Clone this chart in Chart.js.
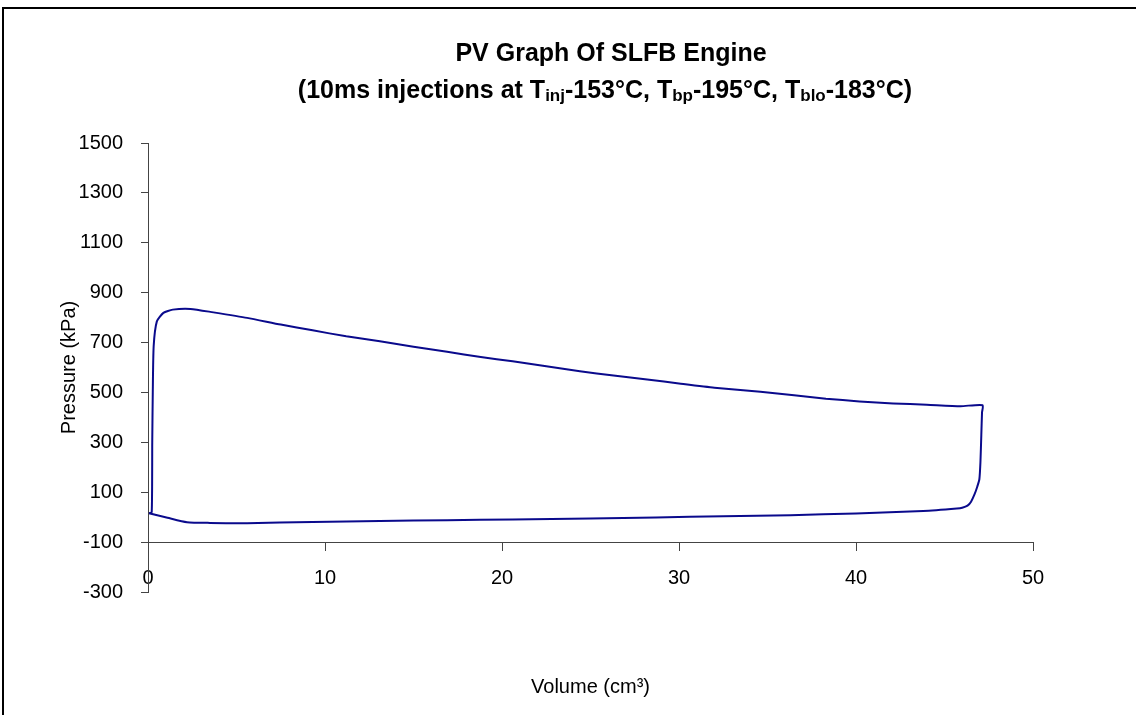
<!DOCTYPE html>
<html>
<head>
<meta charset="utf-8">
<script src="https://cdn.jsdelivr.net/npm/chart.js@4.4.1/dist/chart.umd.min.js"></script>
<style>
  body { margin: 0; background: #fff; }
  #wrap { position: relative; width: 1136px; height: 715px; overflow: hidden; }
  #frame { position: absolute; left: 2px; top: 7px; width: 1300px; height: 900px; border: 2px solid #000; pointer-events: none; }
  canvas { position: absolute; left: 0; top: 0; }
</style>
</head>
<body>
<div id="wrap">
  <canvas id="pvChart" width="1136" height="715"></canvas>
  <div id="frame"></div>
</div>
<script>
const volumeCm3 = [0.06, 1.1, 2.2, 3.5, 5.6, 9.3, 13.1, 16.9, 20.6, 25.0, 28.7, 32.5, 36.3, 40.0, 43.8, 45.7, 46.0, 46.3, 46.5, 46.7, 46.85, 46.97, 47.03, 47.08, 47.12, 47.15,
  45.9, 44.0, 42.1, 40.2, 38.3, 36.5, 34.6, 32.0, 30.1, 28.2, 26.3, 24.4, 22.5, 20.6, 18.8, 16.9, 15.0, 13.1, 11.2, 9.3, 7.5, 5.6, 3.7, 2.4, 1.4, 0.87, 0.5, 0.32, 0.27, 0.24, 0.21, 0.06];
const pressureKpa = [16, -2, -20, -23, -24, -19, -15, -12, -9, -5, -1, 4, 8, 15, 25, 35, 38, 46, 62, 92, 122, 152, 220, 330, 420, 449,
  445, 451, 456, 464, 475, 489, 503, 519, 535, 552, 568, 585, 605, 625, 642, 663, 683, 705, 725, 749, 772, 799, 821, 835, 832, 819, 785, 685, 500, 300, 20, 16];

//axis settings
const xTicks = { min: 0, max: 50, step: 10 };
const yTicks = { min: -300, max: 1500, step: 200 };
const xCrossAt = -100;

//title pieces, sub = subscript
const titleLine1 = [{ t: 'PV Graph Of SLFB Engine' }];
const titleLine2 = [
  { t: '(10ms injections at T' }, { t: 'inj', sub: true }, { t: '-153°C, T' }, { t: 'bp', sub: true },
  { t: '-195°C, T' }, { t: 'blo', sub: true }, { t: '-183°C)' }
];

const fontFam = "'Liberation Sans', Arial, sans-serif";

//draws the two line title with subscripts
const titlePlugin = {
  id: 'titlePlugin',
  afterDraw(chart) {
    const ctx = chart.ctx;
    const big = 'bold 25px ' + fontFam;
    const small = 'bold 17px ' + fontFam;
    function drawLine(parts, cx, y) {
      let w = 0;
      parts.forEach(p => { ctx.font = p.sub ? small : big; w += ctx.measureText(p.t).width; });
      let x = cx - w / 2;
      ctx.save();
      ctx.fillStyle = '#000';
      ctx.textBaseline = 'alphabetic';
      ctx.textAlign = 'left';
      parts.forEach(p => {
        ctx.font = p.sub ? small : big;
        ctx.fillText(p.t, x, p.sub ? y + 3 : y);
        x += ctx.measureText(p.t).width;
      });
      ctx.restore();
    }
    drawLine(titleLine1, 611, 61);
    drawLine(titleLine2, 605, 98);
  }
};

const pvData = volumeCm3.map((v, i) => ({ x: v, y: pressureKpa[i] }));

const pvConfig = {
  type: 'scatter',
  data: {
    datasets: [{
      label: 'PV',
      data: pvData,
      showLine: true,
      borderColor: '#0a0a8c',
      backgroundColor: '#0a0a8c',
      borderWidth: 2,
      pointRadius: 0,
      tension: 0.2,
      fill: false
    }]
  },
  options: {
    responsive: false,
    animation: false,
    layout: {
      padding: { left: 0, right: 103, top: 143, bottom: 123 }
    },
    plugins: {
      legend: { display: false },
      tooltip: { enabled: false },
      title: { display: false }
    },
    scales: {
      x: {
        type: 'linear',
        position: { y: xCrossAt },
        min: xTicks.min,
        max: xTicks.max,
        ticks: {
          stepSize: xTicks.step,
          color: '#000',
          padding: 16,
          font: { family: fontFam, size: 20 }
        },
        grid: { drawOnChartArea: false, drawTicks: true, tickLength: 8, color: '#444' },
        border: { display: true, color: '#444', width: 1 },
        title: {
          display: true,
          text: 'Volume (cm³)',
          color: '#000',
          font: { family: fontFam, size: 20 },
          padding: { top: 69, bottom: 0 }
        }
      },
      y: {
        min: yTicks.min,
        max: yTicks.max,
        afterFit(scale) { scale.width = 148; },
        ticks: {
          stepSize: yTicks.step,
          color: '#000',
          padding: 18,
          font: { family: fontFam, size: 20 },
          callback: (v) => String(v)
        },
        grid: { drawOnChartArea: false, drawTicks: true, tickLength: 7, color: '#444' },
        border: { display: true, color: '#444', width: 1 },
        title: {
          display: true,
          text: 'Pressure (kPa)',
          color: '#000',
          font: { family: fontFam, size: 20 },
          padding: { top: 57, bottom: 0 }
        }
      }
    }
  },
  plugins: [titlePlugin]
};

window.onload = function() {
  const ctx = document.getElementById('pvChart').getContext('2d');
  window.pvChart = new Chart(ctx, pvConfig);
};
</script>
</body>
</html>
